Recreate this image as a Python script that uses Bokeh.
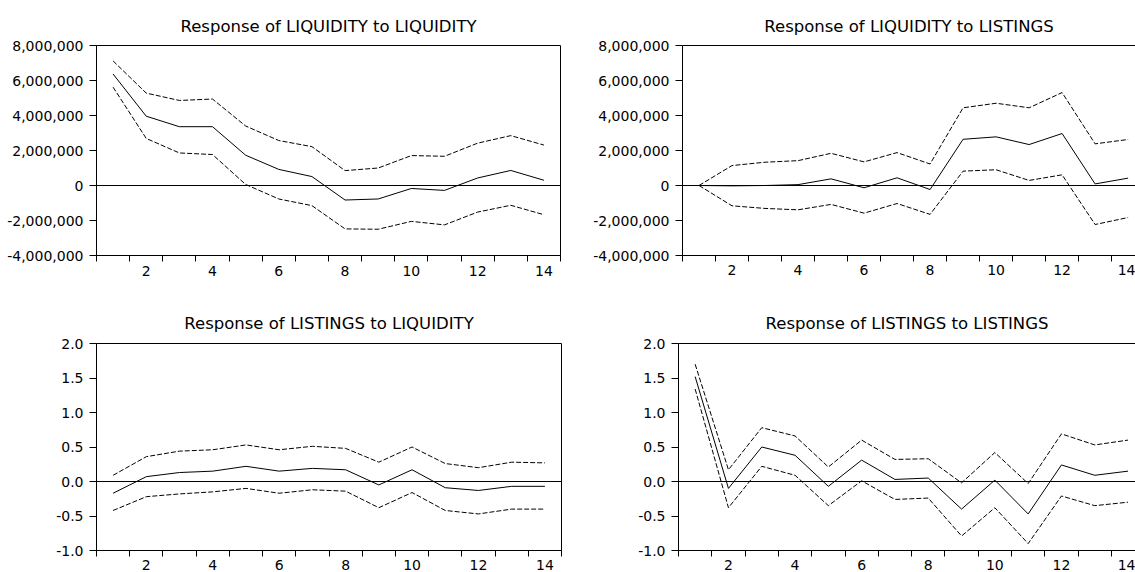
from bokeh.plotting import figure
from bokeh.models import Range1d, FixedTicker, NumeralTickFormatter, Span, LinearAxis, Title
from bokeh.layouts import row, column
from bokeh.embed import file_html
from bokeh.resources import INLINE

periods = list(range(1, 15))
x_labels = [2, 4, 6, 8, 10, 12, 14]
x_bounds = [i + 0.5 for i in range(0, 15)]

liq_ticks = [-4e6, -2e6, 0, 2e6, 4e6, 6e6, 8e6]
lis_ticks = [-1.0, -0.5, 0.0, 0.5, 1.0, 1.5, 2.0]

title_liq_liq = "Response of LIQUIDITY to LIQUIDITY"
title_liq_lis = "Response of LIQUIDITY to LISTINGS"
title_lis_liq = "Response of LISTINGS to LIQUIDITY"
title_lis_lis = "Response of LISTINGS to LISTINGS"

liq_liq_resp = [6.37e6, 3.96e6, 3.36e6, 3.36e6, 1.73e6, 0.92e6, 0.51e6, -0.83e6, -0.77e6, -0.17e6, -0.28e6, 0.43e6, 0.86e6, 0.30e6]
liq_liq_up = [7.12e6, 5.28e6, 4.86e6, 4.94e6, 3.40e6, 2.57e6, 2.22e6, 0.85e6, 1.00e6, 1.71e6, 1.67e6, 2.42e6, 2.85e6, 2.31e6]
liq_liq_lo = [5.62e6, 2.69e6, 1.86e6, 1.77e6, 0.06e6, -0.77e6, -1.15e6, -2.48e6, -2.50e6, -2.05e6, -2.25e6, -1.52e6, -1.13e6, -1.67e6]

liq_lis_resp = [0.0, -0.02e6, 0.0, 0.05e6, 0.38e6, -0.13e6, 0.44e6, -0.23e6, 2.64e6, 2.78e6, 2.34e6, 2.97e6, 0.09e6, 0.42e6]
liq_lis_up = [0.0, 1.14e6, 1.33e6, 1.42e6, 1.84e6, 1.35e6, 1.88e6, 1.23e6, 4.44e6, 4.70e6, 4.44e6, 5.31e6, 2.38e6, 2.63e6]
liq_lis_lo = [0.0, -1.16e6, -1.31e6, -1.39e6, -1.08e6, -1.58e6, -1.03e6, -1.65e6, 0.82e6, 0.90e6, 0.29e6, 0.61e6, -2.23e6, -1.83e6]

lis_liq_resp = [-0.17, 0.07, 0.13, 0.15, 0.22, 0.15, 0.19, 0.17, -0.05, 0.17, -0.09, -0.13, -0.07, -0.07]
lis_liq_up = [0.09, 0.36, 0.44, 0.46, 0.53, 0.46, 0.51, 0.48, 0.28, 0.50, 0.26, 0.20, 0.28, 0.27]
lis_liq_lo = [-0.42, -0.22, -0.18, -0.15, -0.10, -0.17, -0.12, -0.14, -0.38, -0.16, -0.42, -0.47, -0.40, -0.40]

lis_lis_resp = [1.52, -0.10, 0.50, 0.38, -0.07, 0.31, 0.03, 0.05, -0.40, 0.02, -0.47, 0.24, 0.09, 0.15]
lis_lis_up = [1.70, 0.17, 0.78, 0.66, 0.21, 0.60, 0.32, 0.33, -0.02, 0.42, -0.03, 0.69, 0.53, 0.60]
lis_lis_lo = [1.34, -0.38, 0.22, 0.09, -0.35, 0.01, -0.26, -0.24, -0.79, -0.38, -0.90, -0.21, -0.35, -0.30]

FONT = "DejaVu Sans"


def make_panel(title, resp, up, lo, yticks, fmt, width, height, bl, br, bt, bb,
               x_end, cut_right, x_standoff, title_standoff):
    p = figure(width=width, height=height, output_backend="svg", toolbar_location=None,
               title=None,
               x_range=Range1d(0.5, x_end), y_range=Range1d(yticks[0], yticks[-1]),
               min_border_left=bl, min_border_right=br, min_border_top=bt, min_border_bottom=bb,
               background_fill_color="white", border_fill_color="white")
    p.xgrid.visible = False
    p.ygrid.visible = False

    xa = p.below[0]
    xa.ticker = FixedTicker(ticks=x_labels, minor_ticks=x_bounds)
    xa.major_tick_line_color = None
    xa.major_tick_in = 0
    xa.major_tick_out = 0
    xa.minor_tick_line_color = "black"
    xa.minor_tick_in = 0
    xa.minor_tick_out = 6
    xa.axis_line_color = "black"
    xa.major_label_text_font = FONT
    xa.major_label_text_font_size = "14px"
    xa.major_label_text_color = "black"
    xa.major_label_standoff = x_standoff

    ya = p.left[0]
    ya.ticker = FixedTicker(ticks=yticks)
    ya.formatter = NumeralTickFormatter(format=fmt)
    ya.major_tick_in = 0
    ya.major_tick_out = 7
    ya.major_tick_line_color = "black"
    ya.minor_tick_line_color = None
    ya.axis_line_color = "black"
    ya.major_label_text_font = FONT
    ya.major_label_text_font_size = "14px"
    ya.major_label_text_color = "black"
    ya.major_label_standoff = 6

    # tick-less top axis first (draws the top border right on the frame), then the title
    top = LinearAxis(ticker=FixedTicker(ticks=[]), major_label_text_font_size="0px",
                     major_tick_line_color=None, minor_tick_line_color=None,
                     major_tick_out=0, major_tick_in=0, major_label_standoff=0,
                     axis_line_color="black" if cut_right else None, axis_line_width=1)
    p.add_layout(top, "above")
    p.add_layout(Title(text=title, align="center", text_font=FONT, text_font_size="16.5px",
                       text_font_style="normal", text_color="black",
                       standoff=title_standoff), "above")

    if cut_right:
        p.outline_line_color = None
    else:
        p.outline_line_color = "black"
        p.outline_line_width = 1
        p.outline_line_alpha = 1.0

    p.add_layout(Span(location=0, dimension="width", line_color="black", line_width=1))

    p.line(periods, up, line_color="black", line_width=1, line_dash="5 2")
    p.line(periods, lo, line_color="black", line_width=1, line_dash="5 2")
    p.line(periods, resp, line_color="black", line_width=1)
    return p


f1 = make_panel(title_liq_liq, liq_liq_resp, liq_liq_up, liq_liq_lo, liq_ticks, "0,0",
                width=590, height=292, bl=96, br=30, bt=44, bb=35,
                x_end=14.5, cut_right=False, x_standoff=4, title_standoff=20)
f2 = make_panel(title_liq_lis, liq_lis_resp, liq_lis_up, liq_lis_lo, liq_ticks, "0,0",
                width=545, height=292, bl=88, br=0, bt=45, bb=37,
                x_end=0.5 + 457 / 33.3, cut_right=True, x_standoff=3, title_standoff=20)
f3 = make_panel(title_lis_liq, lis_liq_resp, lis_liq_up, lis_liq_lo, lis_ticks, "0.0",
                width=590, height=280, bl=96, br=29, bt=51, bb=21,
                x_end=14.5, cut_right=False, x_standoff=3, title_standoff=22)
f4 = make_panel(title_lis_lis, lis_lis_resp, lis_lis_up, lis_lis_lo, lis_ticks, "0.0",
                width=545, height=280, bl=88, br=0, bt=51, bb=21,
                x_end=0.5 + 457 / 33.3, cut_right=True, x_standoff=3, title_standoff=22)

layout = column(row(f1, f2), row(f3, f4))

open("out.html", "w").write(file_html(layout, INLINE))
